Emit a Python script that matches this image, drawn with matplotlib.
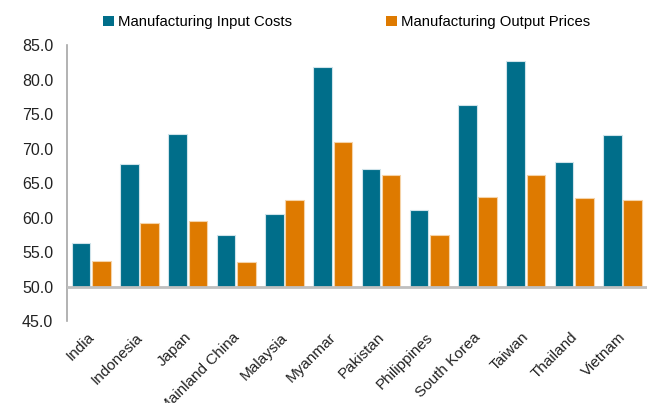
import matplotlib
matplotlib.use("Agg")
import matplotlib.pyplot as plt
import matplotlib.transforms as mtransforms
import numpy as np

plt.rcParams['font.family'] = ['Liberation Sans', 'DejaVu Sans']

categories = ["India", "Indonesia", "Japan", "Mainland China", "Malaysia", "Myanmar",
              "Pakistan", "Philippines", "South Korea", "Taiwan", "Thailand", "Vietnam"]
input_costs = [56.3, 67.7, 72.1, 57.4, 60.5, 81.8, 67.0, 61.1, 76.3, 82.7, 68.1, 72.0]
output_prices = [53.7, 59.2, 59.5, 53.5, 62.6, 71.0, 66.1, 57.4, 63.0, 66.1, 62.8, 62.5]
yticks = [45.0, 50.0, 55.0, 60.0, 65.0, 70.0, 75.0, 80.0, 85.0]
base = 50.0

fig = plt.figure(figsize=(6.52, 4.03), dpi=100)
ax = fig.add_axes([0.1028, 0.2035, 0.889, 0.6845])

x = np.arange(len(categories))
w = 0.385
off = 0.21
ax.bar(x - off, np.array(input_costs) - base, bottom=base, width=w, color="#006E8A",
       edgecolor="#CFE3EA", linewidth=0.8, label="Manufacturing Input Costs", zorder=2)
ax.bar(x + off, np.array(output_prices) - base, bottom=base, width=w, color="#DE7A00",
       edgecolor="#F5D3A8", linewidth=0.8, label="Manufacturing Output Prices", zorder=2)

ax.set_xlim(-0.5, len(categories) - 0.5)
ax.set_ylim(45, 85)
ax.set_yticks(yticks)
ax.set_yticklabels([f"{t:.1f}" for t in yticks], fontsize=11.5, color="#222222")
ax.tick_params(axis='y', length=0, pad=10)
ax.set_xticks(x)
ax.set_xticklabels(categories, rotation=45, ha='right', rotation_mode='anchor',
                   fontsize=11, color="#222222")
ax.tick_params(axis='x', length=0, pad=8)
shift = mtransforms.ScaledTranslation(-4 / 100, 2 / 100, fig.dpi_scale_trans)
for lbl in ax.get_xticklabels():
    lbl.set_transform(lbl.get_transform() + shift)

for s in ["top", "right", "bottom"]:
    ax.spines[s].set_visible(False)
ax.spines["left"].set_color("#A6A6A6")
ax.spines["left"].set_linewidth(1.2)
ax.axhline(base, color="#BFBFBF", linewidth=2, zorder=3)

leg = fig.legend(loc="upper center", bbox_to_anchor=(0.532, 0.995), ncol=2, frameon=False,
                 fontsize=10.75, handlelength=0.7, handleheight=0.7, handletextpad=0.3,
                 columnspacing=6.3)
for h in leg.legend_handles:
    h.set_edgecolor("none")

fig.savefig("out.png", dpi=100)
